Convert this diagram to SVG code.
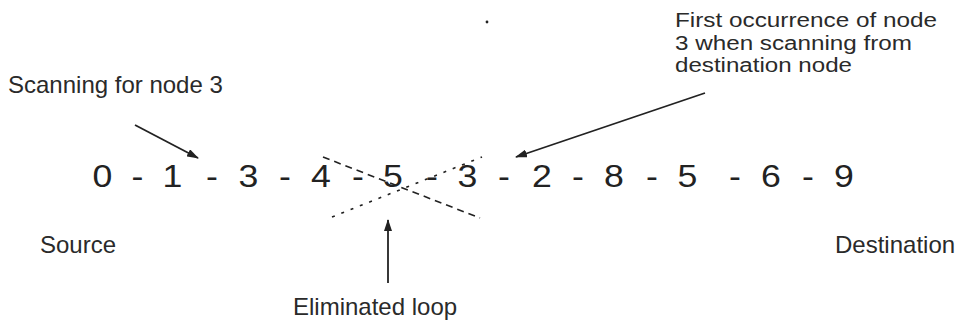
<svg xmlns="http://www.w3.org/2000/svg" width="957" height="325" viewBox="0 0 957 325">
<style>
.lbl{font-family:"Liberation Sans",Arial,sans-serif;font-size:24px;fill:#2a2a2a}
.lbl2{font-family:"Liberation Sans",Arial,sans-serif;font-size:20px;fill:#2a2a2a}
.seq{font-family:"Liberation Sans",Arial,sans-serif;font-size:31px;fill:#222;text-anchor:middle}
.arrow{stroke:#222;stroke-width:1.8;fill:none;marker-end:url(#ah)}
.dash{stroke:#222;stroke-width:1.6;fill:none}
</style>
<defs>
<marker id="ah" markerUnits="userSpaceOnUse" markerWidth="12" markerHeight="8" refX="11" refY="4" orient="auto">
<path d="M0,0 L12,4 L0,8 z" fill="#222"/>
</marker>
</defs>
<rect width="957" height="325" fill="#fff"/>
<circle cx="487" cy="22" r="1.4" fill="#222"/>
<g id="label-scanning"><text class="lbl" x="8" y="93">Scanning for node 3</text></g>
<g id="label-first">
<text class="lbl2" x="675" y="27" textLength="262" lengthAdjust="spacingAndGlyphs">First occurrence of node</text>
<text class="lbl2" x="675" y="49.5" textLength="237" lengthAdjust="spacingAndGlyphs">3 when scanning from</text>
<text class="lbl2" x="675" y="72" textLength="177" lengthAdjust="spacingAndGlyphs">destination node</text>
</g>
<g id="label-source"><text class="lbl" x="40" y="253">Source</text></g>
<g id="label-destination"><text class="lbl" x="835" y="253">Destination</text></g>
<g id="label-loop"><text class="lbl" x="293" y="315">Eliminated loop</text></g>
<g id="sequence" transform="scale(1.15 1)">
<text class="seq" x="89.13" y="187">0</text>
<text class="seq" x="119.57" y="187">-</text>
<text class="seq" x="150.0" y="187">1</text>
<text class="seq" x="184.35" y="187">-</text>
<text class="seq" x="216.09" y="187">3</text>
<text class="seq" x="247.83" y="187">-</text>
<text class="seq" x="279.13" y="187">4</text>
<text class="seq" x="311.30" y="187">-</text>
<text class="seq" x="341.74" y="187">5</text>
<text class="seq" x="375.65" y="187">-</text>
<text class="seq" x="406.52" y="187">3</text>
<text class="seq" x="438.26" y="187">-</text>
<text class="seq" x="471.30" y="187">2</text>
<text class="seq" x="502.61" y="187">-</text>
<text class="seq" x="533.91" y="187">8</text>
<text class="seq" x="566.96" y="187">-</text>
<text class="seq" x="597.83" y="187">5</text>
<text class="seq" x="639.13" y="187">-</text>
<text class="seq" x="670.43" y="187">6</text>
<text class="seq" x="702.61" y="187">-</text>
<text class="seq" x="733.91" y="187">9</text>
</g>
<g id="connectors">
<line class="arrow" x1="135" y1="125" x2="198" y2="158"/>
<line class="arrow" x1="705" y1="93" x2="516" y2="157"/>
<line class="arrow" x1="388" y1="283" x2="388" y2="220"/>
<line class="dash" x1="323" y1="157" x2="480" y2="218" stroke-dasharray="7 5"/>
<line class="dash" x1="332" y1="217" x2="482" y2="157" stroke-dasharray="3 7"/>
</g>
</svg>
